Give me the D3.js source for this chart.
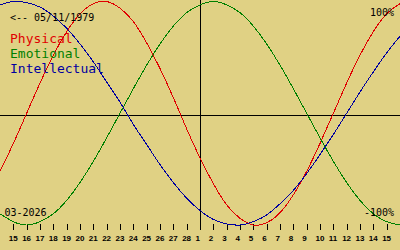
<!DOCTYPE html>
<html>
<head>
<meta charset="utf-8">
<script src="https://cdn.jsdelivr.net/npm/d3@7"></script>
<style>
  html, body { margin: 0; padding: 0; background: #e0d184; }
  svg { display: block; }
  text { font-family: "DejaVu Sans Mono", monospace; }
</style>
</head>
<body>
<svg id="chart" width="400" height="250"></svg>
<script>
// days shown: 14 Feb .. 16 Mar 2026 (the first and last only run off the edges)
const days = ["14", "15", "16", "17", "18", "19", "20", "21", "22", "23", "24", "25", "26", "27", "28",
  "1", "2", "3", "4", "5", "6", "7", "8", "9", "10", "11", "12", "13", "14", "15", "16"];

const physical = [-0.52, -0.27, 0, 0.27, 0.52, 0.73, 0.89, 0.98, 1.00, 0.94, 0.82, 0.63, 0.40, 0.14, -0.14,
  -0.40, -0.63, -0.82, -0.94, -1.00, -0.98, -0.89, -0.73, -0.52, -0.27, 0, 0.27, 0.52, 0.73, 0.89, 0.98];
const emotional = [-0.90, -0.97, -1.00, -0.97, -0.90, -0.78, -0.62, -0.43, -0.22, 0, 0.22, 0.43, 0.62, 0.78, 0.90,
  0.97, 1.00, 0.97, 0.90, 0.78, 0.62, 0.43, 0.22, 0, -0.22, -0.43, -0.62, -0.78, -0.90, -0.97, -1.00];
const intellectual = [0.97, 1.00, 0.99, 0.95, 0.87, 0.76, 0.62, 0.46, 0.28, 0.10, -0.10, -0.28, -0.46, -0.62, -0.76,
  -0.87, -0.95, -0.99, -1.00, -0.97, -0.91, -0.81, -0.69, -0.54, -0.37, -0.19, 0, 0.19, 0.37, 0.54, 0.69];

const series = [
  { name: "Physical", values: physical, color: "#e00000" },
  { name: "Emotional", values: emotional, color: "#008000" },
  { name: "Intellectual", values: intellectual, color: "#0000a0" }
];
const todayIndex = 15; // 1 March

const svg = d3.select("#chart");
const width = 400, height = 250;

const x = d3.scaleLinear().domain([0, days.length - 1]).range([0, width]);
const y = d3.scaleLinear().domain([-1, 1]).range([225, 1.5]);

// axes
svg.append("line")
  .attr("x1", 0).attr("x2", width)
  .attr("y1", 115.5).attr("y2", 115.5)
  .attr("stroke", "#000").attr("shape-rendering", "crispEdges");

svg.append("line")
  .attr("x1", x(todayIndex) + 0.5).attr("x2", x(todayIndex) + 0.5)
  .attr("y1", 0).attr("y2", 230)
  .attr("stroke", "#000").attr("shape-rendering", "crispEdges");

// day ticks
const tickIdx = d3.range(1, days.length - 1);
const ticks = svg.append("g");
ticks.selectAll("line")
  .data(tickIdx)
  .enter()
  .append("line")
  .attr("x1", d => Math.round(x(d)) + 0.5)
  .attr("x2", d => Math.round(x(d)) + 0.5)
  .attr("y1", 224).attr("y2", 230)
  .attr("stroke", "#000").attr("shape-rendering", "crispEdges");
ticks.selectAll("text")
  .data(tickIdx)
  .enter()
  .append("text")
  .attr("x", d => x(d) - 4.5)
  .attr("y", 241)
  .style("font-family", "'Liberation Sans', Arial, sans-serif")
  .style("font-weight", "bold")
  .style("font-size", "8px")
  .text(d => days[d]);

// curves
const line = d3.line()
  .x((d, i) => x(i))
  .y(d => y(d))
  .curve(d3.curveNatural);

svg.selectAll("path.bio")
  .data(series)
  .enter()
  .append("path")
  .attr("class", "bio")
  .attr("d", d => line(d.values))
  .attr("fill", "none")
  .attr("stroke", d => d.color)
  .attr("stroke-width", 1)
  .attr("shape-rendering", "crispEdges");

// labels
svg.append("text").attr("x", 10).attr("y", 20.5)
  .style("font-size", "10px").text("<-- 05/11/1979");
svg.append("text").attr("x", 394).attr("y", 16).attr("text-anchor", "end")
  .style("font-size", "10px").text("100%");
svg.append("text").attr("x", 394).attr("y", 216).attr("text-anchor", "end")
  .style("font-size", "10px").text("-100%");
svg.append("text").attr("x", 4.5).attr("y", 215.5)
  .style("font-size", "10px").text("03-2026");

svg.selectAll("text.legend")
  .data(series)
  .enter()
  .append("text")
  .attr("class", "legend")
  .attr("x", 10)
  .attr("y", (d, i) => 42.5 + i * 15)
  .attr("fill", d => d.color)
  .style("font-size", "13px")
  .text(d => d.name);
</script>
</body>
</html>
